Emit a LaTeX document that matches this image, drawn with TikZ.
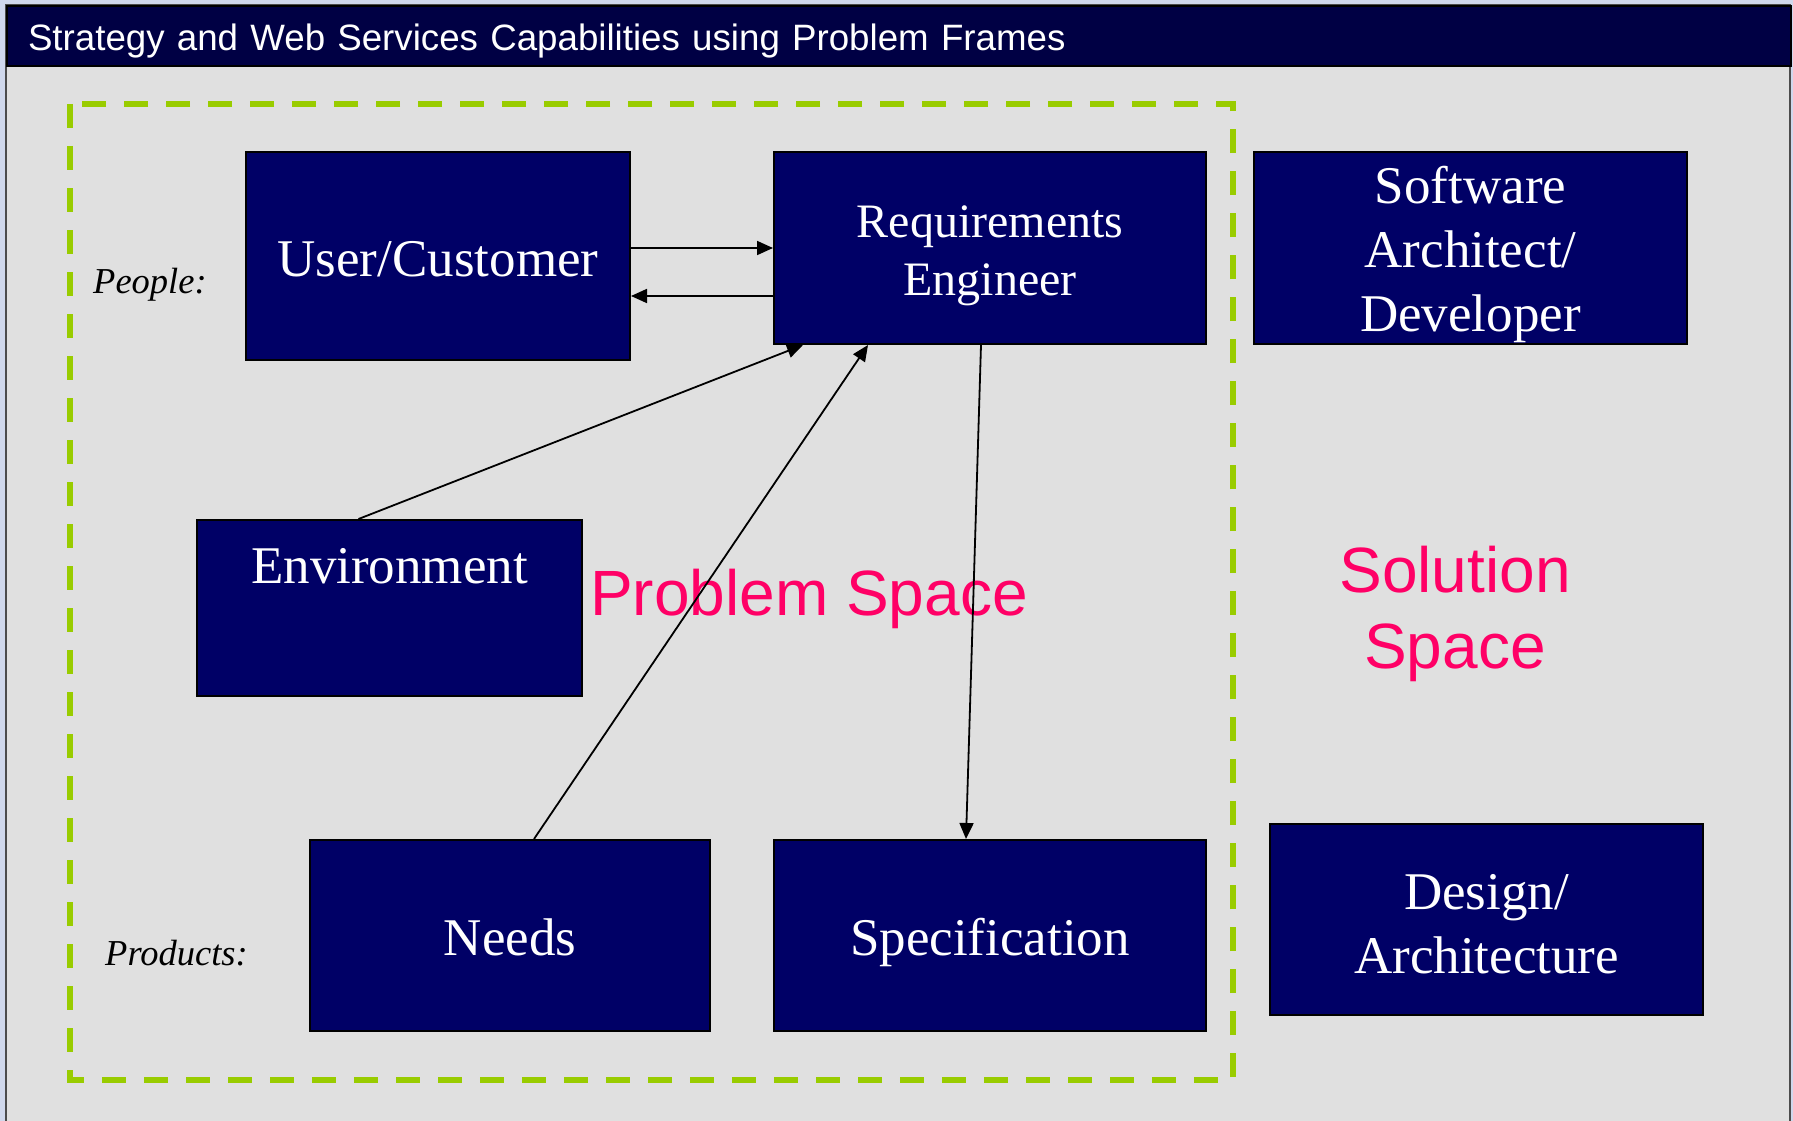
\documentclass[tikz,border=0pt]{standalone}
\usepackage{fontspec}
\setmainfont{Liberation Serif}
\newfontfamily\arialfont{Liberation Sans}
\usetikzlibrary{positioning,arrows,arrows.meta,calc}
\definecolor{boxblue}{RGB}{0,0,102}
\definecolor{barblue}{RGB}{0,0,68}
\definecolor{panelgray}{RGB}{224,224,224}
\definecolor{outerbg}{RGB}{208,216,236}
\definecolor{psgreen}{RGB}{153,204,0}
\definecolor{spacepink}{RGB}{255,0,102}
\tikzstyle{nbox}=[rectangle, draw=black, line width=2pt, fill=boxblue, text=white, inner sep=0pt, align=center, font=\fontsize{53}{64}\selectfont]
\tikzstyle{oneline}=[text height=40pt, text depth=0pt]
\tikzstyle{rowlabel}=[inner sep=0pt, anchor=base west, font=\fontsize{36.5}{40}\selectfont\itshape]
\tikzstyle{spacetext}=[inner sep=0pt, text=spacepink, align=center, font=\arialfont\fontsize{64}{76}\selectfont]
\tikzstyle{aline}=[-{Triangle[length=16pt,width=14pt]}, line width=1.8pt]

\begin{document}
\begin{tikzpicture}[x=1pt,y=1pt,node distance=0pt]
\useasboundingbox (0,0) rectangle (1793,-1121);
\fill[outerbg] (0,0) rectangle (1793,-1121);
\draw[fill=panelgray, draw=black!70, line width=1.5pt] (6,-5) rectangle (1790,-1130);
\node (TITLE) [anchor=north west, fill=barblue, draw=black, line width=2pt, minimum width=1784pt, minimum height=60pt, text width=1742pt, inner xsep=21pt, inner ysep=0pt, text height=44.4pt, text depth=15.6pt, align=left, text=white, font=\arialfont\fontsize{36.7}{40}\selectfont] at (6,-5) {Strategy and Web Services Capabilities using Problem Frames};
% problem space frame
\draw[psgreen, line width=5.5pt, dash pattern=on 24pt off 18pt] (70,-104) rectangle (1233,-1080);
% people
\node (UC) [nbox, oneline, minimum width=384pt, minimum height=208pt] at (438,-256) {User/Customer};
\node (RE) [nbox, minimum width=432pt, minimum height=192pt, right=142pt of UC.north east, anchor=north west, font=\fontsize{48}{58}\selectfont, text height=95.2pt, text depth=0pt] {Requirements\\ Engineer};
\node (SA) [nbox, minimum width=433pt, minimum height=192pt, right=46pt of RE, text height=168pt, text depth=1.4pt] {Software\\ Architect/\\ Developer};
\node (ENV) [nbox, minimum width=385pt, text height=63pt, text depth=113pt] at (389.5,-519) [anchor=north] {Environment};
% products
\node (SPEC) [nbox, oneline, minimum width=432pt, minimum height=191pt, below=494pt of RE] {Specification};
\node (NEEDS) [nbox, oneline, minimum width=400pt, minimum height=191pt, left=62pt of SPEC] {Needs};
\node (DA) [nbox, minimum width=433pt, minimum height=191pt, text height=107.6pt, text depth=0pt] at (1486.5,-919.5) {Design/\\ Architecture};
\node (PEOPLE) [rowlabel] at (93,-293) {People:};
\node (PRODUCTS) [rowlabel] at (105,-965) {Products:};
\node (PSTXT) [spacetext, anchor=base west] at (590,-615) {Problem Space};
\node (SSTXT) [spacetext] at (1455,-614) {Solution\\ Space};
% connectors
\coordinate (REin) at ([yshift=-48pt]RE.west);
\draw[aline] (UC.east |- RE.west) -- (RE.west);
\draw[aline] (REin) -- (UC.east |- REin);
\draw[aline] ([xshift=-31pt]ENV.north) -- ([xshift=30pt]RE.south west);
\draw[aline] ([xshift=24pt]NEEDS.north) -- ([xshift=95pt]RE.south west);
\draw[aline] ([xshift=-9pt]RE.south) -- ([xshift=-24pt]SPEC.north);
\end{tikzpicture}
\end{document}
